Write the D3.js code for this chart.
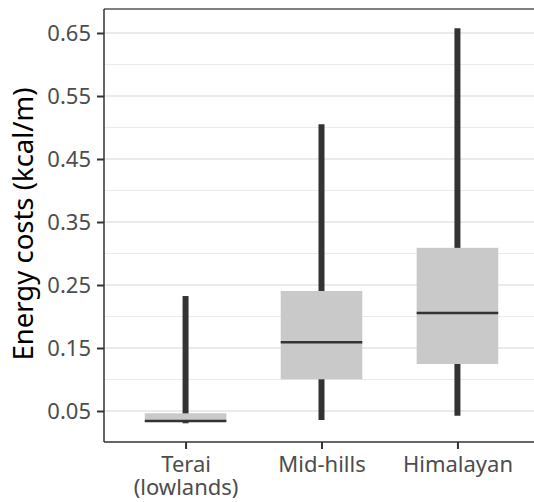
<!DOCTYPE html>
<html>
<head>
<meta charset="utf-8">
<script src="https://cdn.jsdelivr.net/npm/d3@7"></script>
<style>
  body { margin: 0; background: #fff; }
  text { font-family: "Noto Sans", "Open Sans", sans-serif; }
</style>
</head>
<body>
<div id="chart"></div>
<script>
// data
const regions = ["Terai\n(lowlands)", "Mid-hills", "Himalayan"];
const whiskerLow = [0.0305, 0.0357, 0.0425];
const q1 = [0.0325, 0.1003, 0.1246];
const median = [0.034, 0.159, 0.2056];
const q3 = [0.0463, 0.2405, 0.309];
const whiskerHigh = [0.2325, 0.505, 0.6575];
const majorTicks = [0.05, 0.15, 0.25, 0.35, 0.45, 0.55, 0.65];
const minorTicks = [0.10, 0.20, 0.30, 0.40, 0.50, 0.60];

const width = 534, height = 502;
const panelLeft = 104, panelTop = 9, panelBottom = 442, panelRight = 539;

const svg = d3.select('#chart').append('svg')
    .attr('width', width)
    .attr('height', height);

const x = d3.scalePoint()
    .domain(regions)
    .range([panelLeft, panelRight])
    .padding(0.6);

const y = d3.scaleLinear()
    .domain([0.0008, 0.6881])
    .range([panelBottom, panelTop]);

const boxW = x.step() * 0.6;

// grid
svg.append('g').selectAll('line')
    .data(minorTicks)
    .enter().append('line')
    .attr('x1', panelLeft).attr('x2', panelRight)
    .attr('y1', d => y(d)).attr('y2', d => y(d))
    .attr('stroke', '#ebebeb')
    .attr('stroke-width', 1.2);
svg.append('g').selectAll('line')
    .data(majorTicks)
    .enter().append('line')
    .attr('x1', panelLeft).attr('x2', panelRight)
    .attr('y1', d => y(d)).attr('y2', d => y(d))
    .attr('stroke', '#ebebeb')
    .attr('stroke-width', 2);

const boxes = regions.map((r, i) => ({
    name: r, lo: whiskerLow[i], q1: q1[i], med: median[i], q3: q3[i], hi: whiskerHigh[i]
}));

const g = svg.append('g');
// whiskers
g.selectAll('.whisker')
    .data(boxes)
    .enter().append('line')
    .attr('class', 'whisker')
    .attr('x1', d => x(d.name)).attr('x2', d => x(d.name))
    .attr('y1', d => y(d.lo)).attr('y2', d => y(d.hi))
    .attr('stroke', '#333333')
    .attr('stroke-width', 6);
// boxes
g.selectAll('.box')
    .data(boxes)
    .enter().append('rect')
    .attr('class', 'box')
    .attr('x', d => x(d.name) - boxW / 2)
    .attr('width', boxW)
    .attr('y', d => y(d.q3))
    .attr('height', d => y(d.q1) - y(d.q3))
    .attr('fill', '#c9c9c9');
// medians
g.selectAll('.median')
    .data(boxes)
    .enter().append('line')
    .attr('class', 'median')
    .attr('x1', d => x(d.name) - boxW / 2).attr('x2', d => x(d.name) + boxW / 2)
    .attr('y1', d => y(d.med)).attr('y2', d => y(d.med))
    .attr('stroke', '#333333')
    .attr('stroke-width', 2.5);

// panel frame: top border plus axis lines
svg.append('line')
    .attr('x1', panelLeft).attr('x2', panelRight).attr('y1', panelTop).attr('y2', panelTop)
    .attr('stroke', '#555').attr('stroke-width', 1.5);

const yAxis = svg.append('g')
    .attr('transform', `translate(${panelLeft},0)`)
    .call(d3.axisLeft(y).tickValues(majorTicks).tickSize(7).tickPadding(6).tickFormat(d3.format('.2f')));
yAxis.select('.domain').attr('stroke', '#333').attr('stroke-width', 1.5)
    .attr('d', `M0,${panelTop}V${panelBottom}`);
yAxis.selectAll('.tick line').attr('stroke', '#333').attr('stroke-width', 2);
yAxis.selectAll('.tick text')
    .attr('fill', '#4d4d4d')
    .style('font-size', '22px')
    .style('font-family', '"Noto Sans", sans-serif');

const xAxis = svg.append('g')
    .attr('transform', `translate(0,${panelBottom})`)
    .call(d3.axisBottom(x).tickSize(7).tickFormat(''));
xAxis.select('.domain').attr('stroke', '#333').attr('stroke-width', 1.5)
    .attr('d', `M${panelLeft},0H${panelRight}`);
xAxis.selectAll('.tick line').attr('stroke', '#333').attr('stroke-width', 2);

xAxis.selectAll('.tick').append('text')
    .attr('fill', '#4d4d4d')
    .attr('text-anchor', 'middle')
    .style('font-size', '22px')
    .style('font-family', '"Noto Sans", sans-serif')
    .each(function (d) {
        const lines = d.split('\n');
        const t = d3.select(this);
        lines.forEach((l, i) => {
            t.append('tspan')
                .attr('x', 0)
                .attr('y', 30 + i * 23)
                .text(l);
        });
    });

svg.append('text')
    .attr('transform', `translate(33,224) rotate(-90)`)
    .attr('text-anchor', 'middle')
    .attr('fill', '#000')
    .style('font-size', '27.5px')
    .text('Energy costs (kcal/m)');
</script>
</body>
</html>
